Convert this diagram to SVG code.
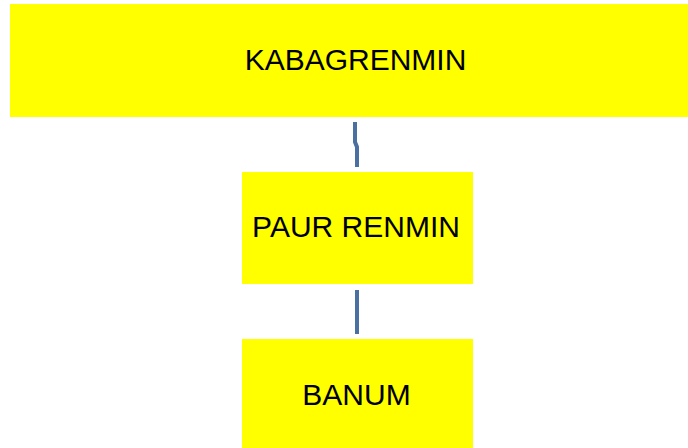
<svg xmlns="http://www.w3.org/2000/svg" width="688" height="448" viewBox="0 0 688 448">
<style>
.box{fill:#ffff00;stroke:none}
.lbl{font-family:"Liberation Sans",Arial,sans-serif;font-size:30px;fill:#000;text-anchor:middle}
.conn{stroke:#4a70a2;stroke-width:4;fill:none}
</style>
<rect width="688" height="448" fill="#fff"/>
<g id="connectors">
<path class="conn" d="M355,122 L355,142 L357,147 L357,167"/>
<path class="conn" d="M357,290 L357,334"/>
</g>
<g id="kabagrenmin">
<rect class="box" x="10" y="4" width="678" height="113"/>
<text class="lbl" x="355.5" y="70">KABAGRENMIN</text>
</g>
<g id="paur-renmin">
<rect class="box" x="242" y="172" width="231" height="112"/>
<text class="lbl" x="356" y="237">PAUR RENMIN</text>
</g>
<g id="banum">
<rect class="box" x="242" y="339" width="231" height="109"/>
<text class="lbl" x="356.5" y="405">BANUM</text>
</g>
</svg>
